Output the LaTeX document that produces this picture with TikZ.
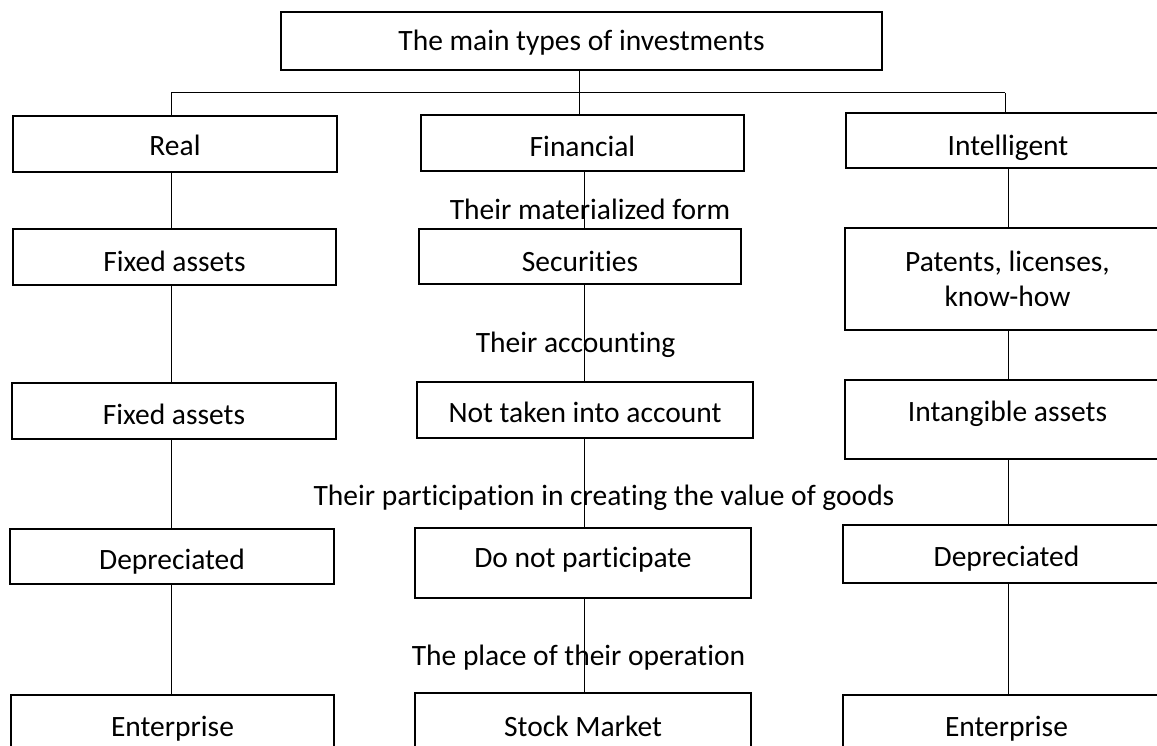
\documentclass[tikz,border=0pt]{standalone}
\usepackage{fontspec}
\setmainfont{Carlito}[Ligatures=NoCommon]
\begin{document}
\begin{tikzpicture}[x=1pt,y=-1pt,
  box/.style={draw=black,line width=1.9pt,inner sep=0pt,align=center,
    font=\fontsize{29.5}{35}\selectfont,text depth=0pt,text height=22pt},
  sh/.style={text height=#1},
  lbl/.style={inner sep=0pt,anchor=base,font=\fontsize{29.5}{35}\selectfont},
  conn/.style={draw=black,line width=1pt}]
\useasboundingbox (0,0) rectangle (1157,746);
\clip (0,0) rectangle (1157,746);
% column axes
\coordinate (colA) at (171,0);
\coordinate (colB) at (584,0);
\coordinate (colC) at (1008,0);
\coordinate (busR) at (1005,0);
\coordinate (bus) at (0,92.7);
\coordinate (trunk) at (579,0);
% labels (drawn first so lines run over them)
\node[lbl] (l1) at (590,219.5) {Their materialized form};
\node[lbl] (l2) at (575.5,352.5) {Their accounting};
\node[lbl] (l3) at (604,505) {Their participation in creating the value of goods};
\node[lbl] (l4) at (578.5,665) {The place of their operation};
% boxes
\node[box,sh=19pt,minimum width=601pt,minimum height=58pt] (top) at (581.5,41) {The main types of investments};
\node[box,sh=24pt,minimum width=324pt,minimum height=56pt] (real) at (175,144) {Real};
\node[box,sh=27pt,minimum width=323pt,minimum height=56pt] (fin) at (582.5,143) {Financial};
\node[box,sh=31pt,minimum width=324pt,minimum height=55pt] (intel) at (1008,140.5) {Intelligent};
\node[box,sh=29pt,minimum width=323pt,minimum height=56pt] (fix1) at (174.5,257) {Fixed assets};
\node[box,sh=30pt,minimum width=322pt,minimum height=55pt] (sec) at (580,256.5) {Securities};
\node[box,text height=, text depth=,minimum width=325pt,minimum height=102pt] (pat) at (1007.5,279) {Patents, licenses,\\know-how};
\node[box,sh=27pt,minimum width=324pt,minimum height=56pt] (fix2) at (174,411) {Fixed assets};
\node[box,sh=25pt,minimum width=336pt,minimum height=56pt] (nota) at (585,410) {Not taken into account};
\node[box,sh=4pt,minimum width=325pt,minimum height=79pt] (intang) at (1007.5,419.5) {Intangible assets};
\node[box,sh=25pt,minimum width=324pt,minimum height=55pt] (dep1) at (172,556.5) {Depreciated};
\node[box,sh=9pt,minimum width=336pt,minimum height=70pt] (donot) at (583,563) {Do not participate};
\node[box,sh=25pt,minimum width=327pt,minimum height=58pt] (dep3) at (1006.5,554) {Depreciated};
\node[box,sh=28pt,minimum width=323pt,minimum height=54pt] (ent1) at (172.5,722) {Enterprise};
\node[box,sh=30pt,minimum width=336pt,minimum height=56pt] (stock) at (583,721) {Stock Market};
\node[box,sh=28pt,minimum width=327pt,minimum height=54pt] (ent3) at (1006.5,722) {Enterprise};
% tree from the top box
\draw[conn] (top.south -| trunk) -- (bus -| trunk);
\draw[conn] (bus -| colA) -- (bus -| busR);
\draw[conn] (bus -| colA) -- (real.north -| colA);
\draw[conn] (bus -| trunk) -- (fin.north -| trunk);
\draw[conn] (bus -| busR) -- (intel.north -| busR);
% column A
\draw[conn] (real.south -| colA) -- (fix1.north -| colA);
\draw[conn] (fix1.south -| colA) -- (fix2.north -| colA);
\draw[conn] (fix2.south -| colA) -- (dep1.north -| colA);
\draw[conn] (dep1.south -| colA) -- (ent1.north -| colA);
% column B
\draw[conn] (fin.south -| colB) -- (sec.north -| colB);
\draw[conn] (sec.south -| colB) -- (nota.north -| colB);
\draw[conn] (nota.south -| colB) -- (donot.north -| colB);
\draw[conn] (donot.south -| colB) -- (stock.north -| colB);
% column C
\draw[conn] (intel.south -| colC) -- (pat.north -| colC);
\draw[conn] (pat.south -| colC) -- (intang.north -| colC);
\draw[conn] (intang.south -| colC) -- (dep3.north -| colC);
\draw[conn] (dep3.south -| colC) -- (ent3.north -| colC);
\end{tikzpicture}
\end{document}
